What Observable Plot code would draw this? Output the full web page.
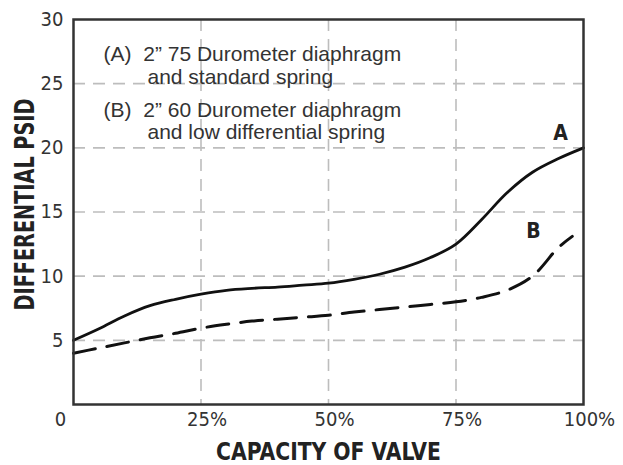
<!DOCTYPE html>
<html>
<head>
<meta charset="utf-8">
<script src="https://cdn.jsdelivr.net/npm/d3@7"></script>
<script src="https://cdn.jsdelivr.net/npm/@observablehq/plot@0.6"></script>
<style>
  html, body { margin: 0; padding: 0; background: #fff; }
</style>
</head>
<body>
<div id="chart"></div>
<script>
// ---- data ----
const capacityA = [0, 0.05, 0.1, 0.15, 0.2, 0.25, 0.3, 0.35, 0.4, 0.45, 0.5, 0.55, 0.6, 0.65, 0.7, 0.75, 0.8, 0.85, 0.9, 0.95, 1.0];
const psidA     = [5.0, 5.9, 6.9, 7.7, 8.2, 8.6, 8.9, 9.05, 9.15, 9.3, 9.45, 9.75, 10.15, 10.7, 11.45, 12.5, 14.4, 16.5, 18.1, 19.15, 20.0];
const capacityB = [0, 0.05, 0.1, 0.15, 0.2, 0.25, 0.3, 0.35, 0.4, 0.45, 0.5, 0.55, 0.6, 0.65, 0.7, 0.75, 0.8, 0.85, 0.9, 0.95, 0.978];
const psidB     = [4.0, 4.4, 4.8, 5.2, 5.55, 5.95, 6.25, 6.5, 6.65, 6.8, 6.95, 7.2, 7.4, 7.6, 7.8, 8.0, 8.35, 8.9, 10.0, 12.2, 13.1];
const xTicks = [0, 0.25, 0.5, 0.75, 1];
const xTickLabels = ["0", "25%", "50%", "75%", "100%"];
const yTicks = [5, 10, 15, 20, 25, 30];
const curveLabels = [
  {x: 0.955, y: 21.1, text: "A"},
  {x: 0.902, y: 13.5, text: "B"}
];
const legendLines = [
  {x: 0.059, y: 27.28, text: "(A)  2\u201D 75 Durometer diaphragm"},
  {x: 0.145, y: 25.52, text: "and standard spring"},
  {x: 0.059, y: 22.92, text: "(B)  2\u201D 60 Durometer diaphragm"},
  {x: 0.145, y: 21.18, text: "and low differential spring"}
];
const xTitle = "CAPACITY OF VALVE";
const yTitle = "DIFFERENTIAL PSID";

const seriesA = capacityA.map((c, i) => ({c, v: psidA[i]}));
const seriesB = capacityB.map((c, i) => ({c, v: psidB[i]}));

const narrow = "'Liberation Sans Narrow', 'DejaVu Sans Condensed', 'Arial Narrow', sans-serif";
const regular = "'Liberation Sans', Arial, Helvetica, sans-serif";
const gridStyle = {stroke: "#bdbdbd", strokeOpacity: 1, strokeWidth: 1.6, strokeDasharray: "12,8"};
const fmt = (d) => xTickLabels[xTicks.indexOf(d)];

const chart = Plot.plot({
  width: 623,
  height: 465,
  marginLeft: 73,
  marginRight: 40,
  marginTop: 19,
  marginBottom: 61,
  style: {fontFamily: narrow, color: "#222", background: "#fff"},
  x: {domain: [0, 1]},
  y: {domain: [0, 30]},
  marks: [
    Plot.gridY([5, 10, 15, 20, 25], gridStyle),
    Plot.gridX([0.25, 0.5, 0.75], gridStyle),
    Plot.axisY(yTicks, {tickSize: 0, tickPadding: 10, fontSize: 20, fontFamily: narrow, fill: "#333", label: null}),
    Plot.axisX(xTicks.slice(0, 1), {tickSize: 0, tickPadding: 7, dx: -13, fontSize: 20, fontFamily: narrow, fill: "#333", label: null, tickFormat: fmt}),
    Plot.axisX(xTicks.slice(1), {tickSize: 0, tickPadding: 7, dx: 6, fontSize: 20, fontFamily: narrow, fill: "#333", label: null, tickFormat: fmt}),
    Plot.line(seriesB, {x: "c", y: "v", curve: "catmull-rom", stroke: "#111", strokeWidth: 3, strokeDasharray: "22,12"}),
    Plot.line(seriesA, {x: "c", y: "v", curve: "catmull-rom", stroke: "#111", strokeWidth: 2.8}),
    Plot.frame({stroke: "#333", strokeWidth: 2.5}),
    Plot.text(curveLabels, {x: "x", y: "y", text: "text", fontSize: 21, fontWeight: "bold", fontFamily: narrow, fill: "#222"}),
    Plot.text(legendLines, {x: "x", y: "y", text: "text", textAnchor: "start", fontSize: 21, fontFamily: regular, fill: "#333"}),
    Plot.text([xTitle], {frameAnchor: "bottom", textAnchor: "middle", dy: 55, fontSize: 25, fontWeight: "bold", fontFamily: narrow, fill: "#222", className: "xtitle"}),
    Plot.text([yTitle], {frameAnchor: "left", textAnchor: "middle", dx: -48, dy: -7.5, rotate: -90, fontSize: 27, fontWeight: "bold", fontFamily: narrow, fill: "#222", className: "ytitle"})
  ]
});
// condense the bold axis titles to the reference's narrow face
d3.select(chart).selectAll(".xtitle text").attr("textLength", 225).attr("lengthAdjust", "spacingAndGlyphs");
d3.select(chart).selectAll(".ytitle text").attr("textLength", 212).attr("lengthAdjust", "spacingAndGlyphs");
document.getElementById("chart").appendChild(chart);
</script>
</body>
</html>
